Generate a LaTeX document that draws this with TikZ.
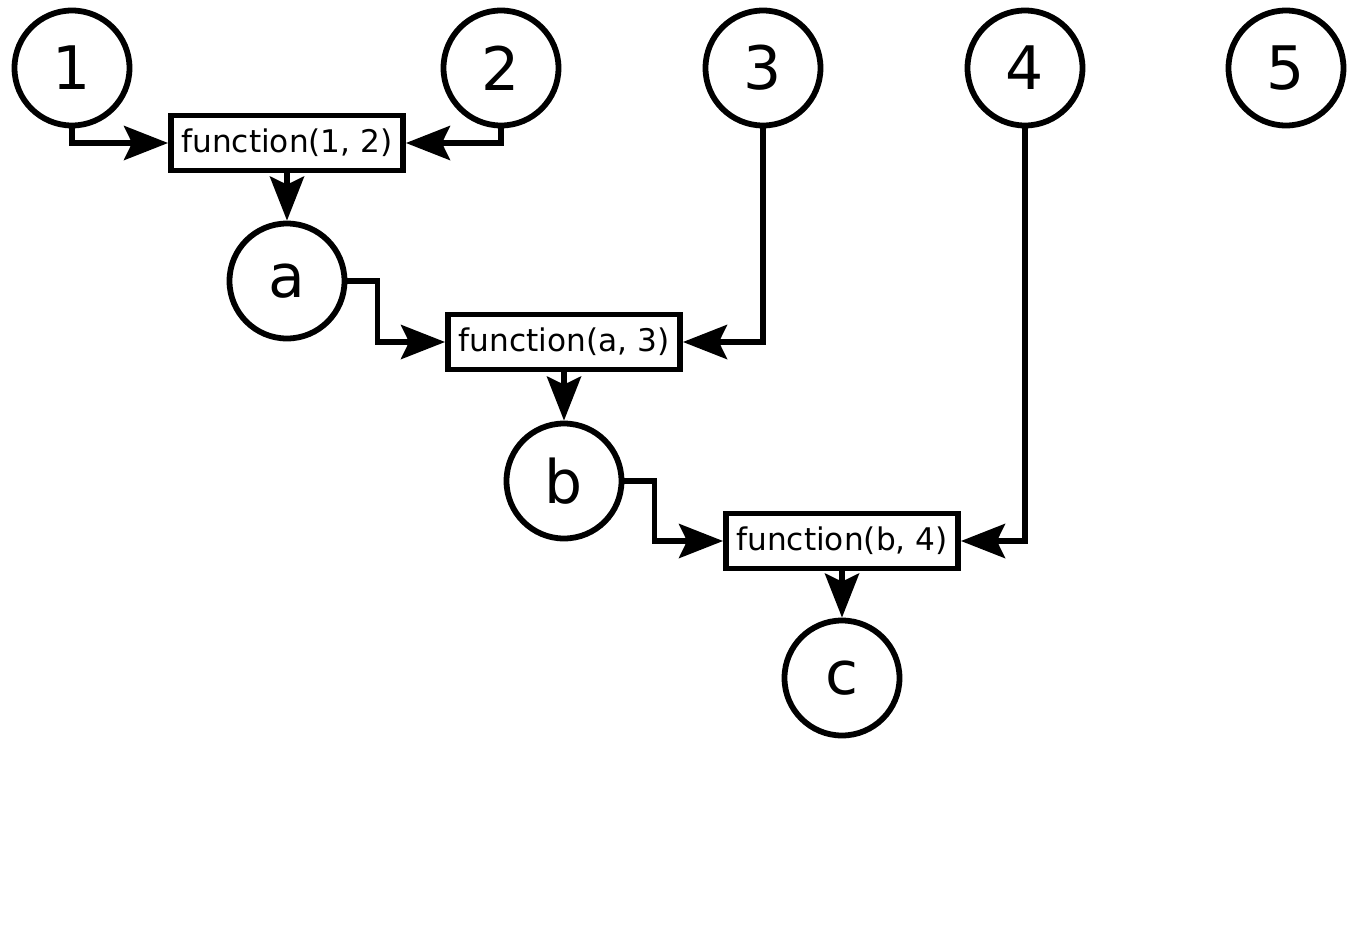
\documentclass[tikz,border=0pt]{standalone}
\usepackage{fontspec}
\setmainfont{DejaVu Sans}
\usetikzlibrary{arrows.meta}
\begin{document}
\begin{tikzpicture}[x=0.5pt,y=-0.5pt,
  val/.style={circle,draw,line width=2.9pt,minimum size=57.5pt,inner sep=0pt,font=\fontsize{30}{36}\selectfont},
  fn/.style={rectangle,draw,line width=2.9pt,minimum width=116pt,minimum height=27.5pt,inner sep=0pt,font=\fontsize{15.6}{18}\selectfont},
  conn/.style={line width=2.9pt,-{Stealth[length=22pt,width=17pt,inset=4pt]}}]
\useasboundingbox (0,0) rectangle (1356,943);
\node[val] (n1) at (72,68) {1};
\node[val] (n2) at (501,68) {2};
\node[val] (n3) at (763,68) {3};
\node[val] (n4) at (1025,68) {4};
\node[val] (n5) at (1286,68) {5};
\node[fn] (f1) at (287,143) {function(1, 2)};
\node[val] (a) at (287,281) {a};
\node[fn] (f2) at (564,342) {function(a, 3)};
\node[val] (b) at (564,481) {b};
\node[fn] (f3) at (842,541) {function(b, 4)};
\node[val] (c) at (842,678) {c};
\draw[conn] (n1.south) |- (f1.west);
\draw[conn] (n2.south) |- (f1.east);
\draw[conn] (f1.south) -- (a.north);
\draw[conn] (a.east) -- ++(30,0) |- (f2.west);
\draw[conn] (n3.south) |- (f2.east);
\draw[conn] (f2.south) -- (b.north);
\draw[conn] (b.east) -- ++(30,0) |- (f3.west);
\draw[conn] (n4.south) |- (f3.east);
\draw[conn] (f3.south) -- (c.north);
\end{tikzpicture}
\end{document}
